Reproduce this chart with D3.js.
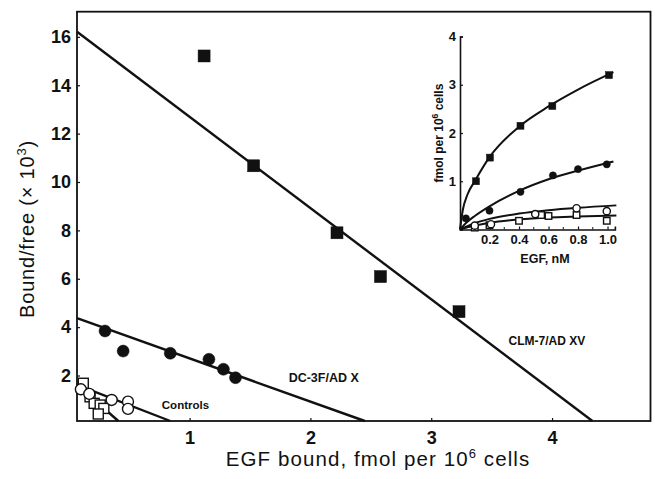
<!DOCTYPE html>
<html>
<head>
<meta charset="utf-8">
<script src="https://cdn.jsdelivr.net/npm/d3@7"></script>
<style>
  body { margin: 0; background: #fff; }
  text { font-family: "Liberation Sans", Arial, Helvetica, sans-serif; fill: #111; }
</style>
</head>
<body>
<div id="chart"></div>
<script>
// ---- main Scatchard plot: [EGF bound, bound/free x10^3]
var clmPoints = [[1.12, 15.21], [1.53, 10.67], [2.22, 7.9], [2.58, 6.09], [3.23, 4.64]];
var dcPoints = [[0.30, 3.84], [0.45, 3.01], [0.84, 2.92], [1.16, 2.67], [1.28, 2.26], [1.38, 1.91]];
var ctrlCircles = [[0.10, 1.43], [0.17, 1.24], [0.355, 0.99], [0.49, 0.92], [0.49, 0.62]];
var ctrlSquares = [[0.12, 1.68], [0.176, 1.12], [0.21, 0.85], [0.26, 0.78], [0.29, 0.64], [0.244, 0.41]];

// fitted lines, end points
var clmFit = [[0.068, 16.21], [4.334, 0.12]];
var dcFit = [[0.068, 4.37], [2.45, 0.12]];
var ctrlFitA = [[0.068, 1.61], [0.84, 0.12]];
var ctrlFitB = [[0.068, 1.62], [0.41, 0.12]];

var xTicks = [1, 2, 3, 4];
var yTicks = [2, 4, 6, 8, 10, 12, 14, 16];

var lineLabels = [
  {text: "CLM-7/AD XV", x: 3.64, y: 3.25, size: 12},
  {text: "DC-3F/AD X", x: 1.82, y: 1.72, size: 12.5},
  {text: "Controls", x: 0.77, y: 0.6, size: 11.5}
];

// ---- inset saturation curves: [EGF nM, fmol per 10^6 cells]
var inClmPts = [[0.108, 1.0], [0.203, 1.49], [0.41, 2.15], [0.626, 2.56], [1.01, 3.2]];
var inDcPts = [[0.04, 0.23], [0.2, 0.39], [0.41, 0.78], [0.63, 1.12], [0.80, 1.25], [0.995, 1.35]];
var inCtrlCircles = [[0.10, 0.08], [0.21, 0.11], [0.51, 0.32], [0.79, 0.44], [0.995, 0.38]];
var inCtrlSquares = [[0.10, 0.04], [0.2, 0.09], [0.4, 0.18], [0.55, 0.3], [0.6, 0.28], [0.79, 0.3], [0.995, 0.18]];

var inClmCurve = [[0, 0], [0.02, 0.42], [0.05, 0.72], [0.1, 1.0], [0.2, 1.5], [0.4, 2.13], [0.6, 2.55], [0.8, 2.9], [1.04, 3.26]];
var inDcCurve = [[0, 0], [0.05, 0.16], [0.1, 0.28], [0.2, 0.48], [0.4, 0.8], [0.6, 1.04], [0.8, 1.22], [1.04, 1.41]];
var inCtrlCurveA = [[0, 0], [0.1, 0.13], [0.2, 0.22], [0.4, 0.33], [0.6, 0.4], [0.8, 0.45], [1.06, 0.5]];
var inCtrlCurveB = [[0, 0], [0.1, 0.08], [0.2, 0.14], [0.4, 0.21], [0.6, 0.25], [0.8, 0.27], [1.06, 0.29]];

var inXTicks = [0.2, 0.4, 0.6, 0.8, 1.0];
var inXMinor = [0.1, 0.3, 0.5, 0.7, 0.9];
var inYTicks = [1, 2, 3, 4];

var width = 655, height = 479;

var svg = d3.select("#chart").append("svg")
  .attr("width", width)
  .attr("height", height)
  .style("background", "#fff");

var x = d3.scaleLinear().domain([0.068, 4.815]).range([77, 650.5]);
var y = d3.scaleLinear().domain([0.12, 17.04]).range([421, 11.7]);

// frame
svg.append("rect")
  .attr("x", x.range()[0]).attr("y", y.range()[1])
  .attr("width", x.range()[1] - x.range()[0])
  .attr("height", y.range()[0] - y.range()[1])
  .attr("fill", "none").attr("stroke", "#111").attr("stroke-width", 1.8);

var xAxis = svg.append("g")
  .attr("transform", "translate(0," + y.range()[0] + ")")
  .call(d3.axisBottom(x).tickValues(xTicks).tickSize(-3).tickPadding(10).tickFormat(d3.format("d")));
var yAxis = svg.append("g")
  .attr("transform", "translate(" + x.range()[0] + ",0)")
  .call(d3.axisLeft(y).tickValues(yTicks).tickSize(-3).tickPadding(6).tickFormat(d3.format("d")));

[xAxis, yAxis].forEach(function(g) {
  g.select(".domain").remove();
  g.selectAll(".tick line").attr("stroke", "#111").attr("stroke-width", 1.2);
  g.selectAll(".tick text")
    .style("font-family", "'Liberation Sans', Arial, sans-serif")
    .style("font-size", "18px").style("font-weight", "bold").attr("fill", "#111");
});

// axis titles
var xt = svg.append("text")
  .attr("x", 378).attr("y", 466)
  .attr("text-anchor", "middle").style("font-size", "20.5px").style("letter-spacing", "1.1px");
xt.append("tspan").text("EGF bound, fmol per 10");
xt.append("tspan").attr("dy", -8).style("font-size", "13px").text("6");
xt.append("tspan").attr("dy", 8).text(" cells");

var yt = svg.append("text")
  .attr("transform", "translate(34,229) rotate(-90)")
  .attr("text-anchor", "middle").style("font-size", "20px").style("letter-spacing", "0.8px");
yt.append("tspan").text("Bound/free (\u00d7 10");
yt.append("tspan").attr("dy", -8).style("font-size", "13px").text("3");
yt.append("tspan").attr("dy", 8).text(")");

// fitted lines
var line = d3.line().x(d => x(d[0])).y(d => y(d[1]));
[clmFit, dcFit, ctrlFitA, ctrlFitB].forEach(function(f) {
  svg.append("path").attr("d", line(f))
    .attr("fill", "none").attr("stroke", "#111").attr("stroke-width", 2.4);
});

// markers
function squares(g, data, sx, sy, s, filled) {
  g.selectAll(null).data(data).enter().append("rect")
    .attr("x", d => sx(d[0]) - s / 2).attr("y", d => sy(d[1]) - s / 2)
    .attr("width", s).attr("height", s)
    .attr("fill", filled ? "#111" : "#fff")
    .attr("stroke", "#111").attr("stroke-width", filled ? 0.5 : 1.4);
}
function circles(g, data, sx, sy, r, filled) {
  g.selectAll(null).data(data).enter().append("circle")
    .attr("cx", d => sx(d[0])).attr("cy", d => sy(d[1])).attr("r", r)
    .attr("fill", filled ? "#111" : "#fff")
    .attr("stroke", "#111").attr("stroke-width", filled ? 0.5 : 1.4);
}

var marks = svg.append("g");
squares(marks, ctrlSquares, x, y, 10, false);
circles(marks, ctrlCircles, x, y, 5.5, false);
circles(marks, dcPoints, x, y, 6, true);
squares(marks, clmPoints, x, y, 12, true);

// line labels
svg.selectAll(null).data(lineLabels).enter().append("text")
  .attr("x", d => x(d.x)).attr("y", d => y(d.y))
  .style("font-size", d => d.size + "px")
  .style("font-weight", "bold")
  .text(d => d.text);

// ---- inset
var ix = d3.scaleLinear().domain([0, 1.05]).range([460, 614.9]);
var iy = d3.scaleLinear().domain([0, 4]).range([229.5, 36.5]);
var inset = svg.append("g");

var ixAxis = inset.append("g")
  .attr("transform", "translate(0," + iy(0) + ")")
  .call(d3.axisBottom(ix).tickValues(inXTicks).tickSize(-3).tickPadding(5).tickFormat(d3.format(".1f")));
var iyAxis = inset.append("g")
  .attr("transform", "translate(" + ix(0) + ",0)")
  .call(d3.axisLeft(iy).tickValues(inYTicks).tickSize(-3).tickPadding(4).tickFormat(d3.format("d")));
[ixAxis, iyAxis].forEach(function(g) {
  g.select(".domain").attr("stroke", "#111").attr("stroke-width", 1.6);
  g.selectAll(".tick line").attr("stroke", "#111").attr("stroke-width", 1.2);
  g.selectAll(".tick text")
    .style("font-family", "'Liberation Sans', Arial, sans-serif")
    .style("font-size", "13px").style("font-weight", "bold").attr("fill", "#111");
});
inset.selectAll(null).data(inXMinor).enter().append("line")
  .attr("x1", d => ix(d)).attr("x2", d => ix(d))
  .attr("y1", iy(0)).attr("y2", iy(0) - 2.5)
  .attr("stroke", "#111").attr("stroke-width", 1);

inset.append("text")
  .attr("x", 545).attr("y", 263)
  .attr("text-anchor", "middle").style("font-size", "12.5px").style("font-weight", "bold")
  .text("EGF, nM");
var iyt = inset.append("text")
  .attr("transform", "translate(443,133) rotate(-90)")
  .attr("text-anchor", "middle").style("font-size", "12px").style("font-weight", "bold");
iyt.append("tspan").text("fmol per 10");
iyt.append("tspan").attr("dy", -5).style("font-size", "8.5px").text("6");
iyt.append("tspan").attr("dy", 5).text(" cells");

var curve = d3.line().x(d => ix(d[0])).y(d => iy(d[1])).curve(d3.curveMonotoneX);
[inClmCurve, inDcCurve, inCtrlCurveA, inCtrlCurveB].forEach(function(c) {
  inset.append("path").attr("d", curve(c))
    .attr("fill", "none").attr("stroke", "#111").attr("stroke-width", 2);
});

squares(inset, inCtrlSquares, ix, iy, 6.5, false);
circles(inset, inCtrlCircles, ix, iy, 3.6, false);
circles(inset, inDcPts, ix, iy, 3.6, true);
squares(inset, inClmPts, ix, iy, 7, true);
</script>
</body>
</html>
